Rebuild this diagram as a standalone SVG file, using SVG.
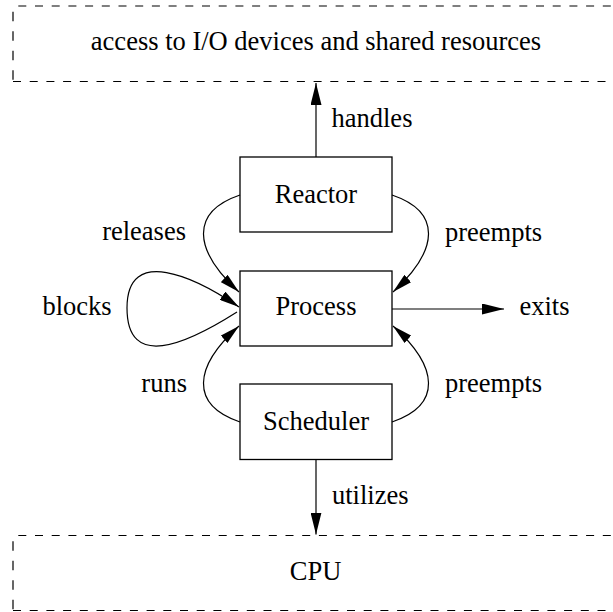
<svg xmlns="http://www.w3.org/2000/svg" width="613" height="612" viewBox="0 0 613 612">
  <style>
    text { font-family: "Liberation Serif", "Times New Roman", serif; font-size: 26.5px; fill: #000; }
    .mid { text-anchor: middle; }
    .end { text-anchor: end; }
    .box { fill: #fff; stroke: #000; stroke-width: 1.3; }
    .dh { fill: none; stroke: #000; stroke-width: 1.2; stroke-dasharray: 8 8.7; }
    .dv { fill: none; stroke: #000; stroke-width: 1.2; stroke-dasharray: 9.5 10; }
    .edge { fill: none; stroke: #000; stroke-width: 1.2; }
  </style>
  <defs>
    <marker id="arrow" markerUnits="userSpaceOnUse" viewBox="0 0 22 11" markerWidth="22" markerHeight="11" refX="22" refY="5.5" orient="auto">
      <path d="M0,0 L22,5.5 L0,11 z" fill="#000"/>
    </marker>
    <marker id="arrowc" markerUnits="userSpaceOnUse" viewBox="0 0 20 10" markerWidth="20" markerHeight="10" refX="20" refY="5" orient="auto">
      <path d="M0,0 L20,5 L0,10 z" fill="#000"/>
    </marker>
  </defs>

  <rect width="613" height="612" fill="#fff"/>

  <!-- shared resources area (open to the right) -->
  <g id="resources">
    <path class="dh" d="M13,6 H625" stroke-dashoffset="11.4"/>
    <path class="dh" d="M13,81.5 H625"/>
    <path class="dv" d="M13,6 V81.5" stroke-dashoffset="13.8"/>
    <text class="mid" x="316" y="50">access to I/O devices and shared resources</text>
  </g>

  <!-- CPU area (open to the right) -->
  <g id="cpu">
    <path class="dh" d="M13,535.5 H625" stroke-dashoffset="11.4"/>
    <path class="dh" d="M13,610.5 H625"/>
    <path class="dv" d="M13,535.5 V610.5" stroke-dashoffset="13.8"/>
    <text class="mid" x="315.5" y="580">CPU</text>
  </g>

  <g id="reactor">
    <rect class="box" x="240" y="157" width="152" height="75"/>
    <text class="mid" x="316" y="203">Reactor</text>
  </g>

  <g id="process">
    <rect class="box" x="240" y="271" width="152" height="75"/>
    <text class="mid" x="316" y="315">Process</text>
  </g>

  <g id="scheduler">
    <rect class="box" x="240" y="384" width="152" height="75.5"/>
    <text class="mid" x="316" y="430">Scheduler</text>
  </g>

  <g id="connectors">
    <!-- Reactor handles resources -->
    <path class="edge" d="M316,157 V83" marker-end="url(#arrow)"/>
    <text x="331.5" y="127">handles</text>

    <!-- Reactor releases / preempts Process -->
    <path class="edge" d="M240,195 C190,212 193,250 239,292" marker-end="url(#arrowc)"/>
    <text class="end" x="186" y="240">releases</text>
    <path class="edge" d="M392,195 C442,212 439,250 393,292" marker-end="url(#arrowc)"/>
    <text x="445" y="240.5">preempts</text>

    <!-- Process blocks itself -->
    <path class="edge" d="M237,312 C185,345 127,370 127,308 C127,245 195,277 239,307" marker-end="url(#arrowc)"/>
    <text x="42.5" y="315">blocks</text>

    <!-- Process exits -->
    <path class="edge" d="M392,309 H504" marker-end="url(#arrow)"/>
    <text x="519.5" y="315">exits</text>

    <!-- Scheduler runs / preempts Process -->
    <path class="edge" d="M240,422 C190,405 193,367 239,326" marker-end="url(#arrowc)"/>
    <text class="end" x="187" y="392">runs</text>
    <path class="edge" d="M392,422 C442,405 439,367 393,326" marker-end="url(#arrowc)"/>
    <text x="445" y="392">preempts</text>

    <!-- Scheduler utilizes CPU -->
    <path class="edge" d="M316,459.5 V534.5" marker-end="url(#arrow)"/>
    <text x="332" y="504">utilizes</text>
  </g>
</svg>
